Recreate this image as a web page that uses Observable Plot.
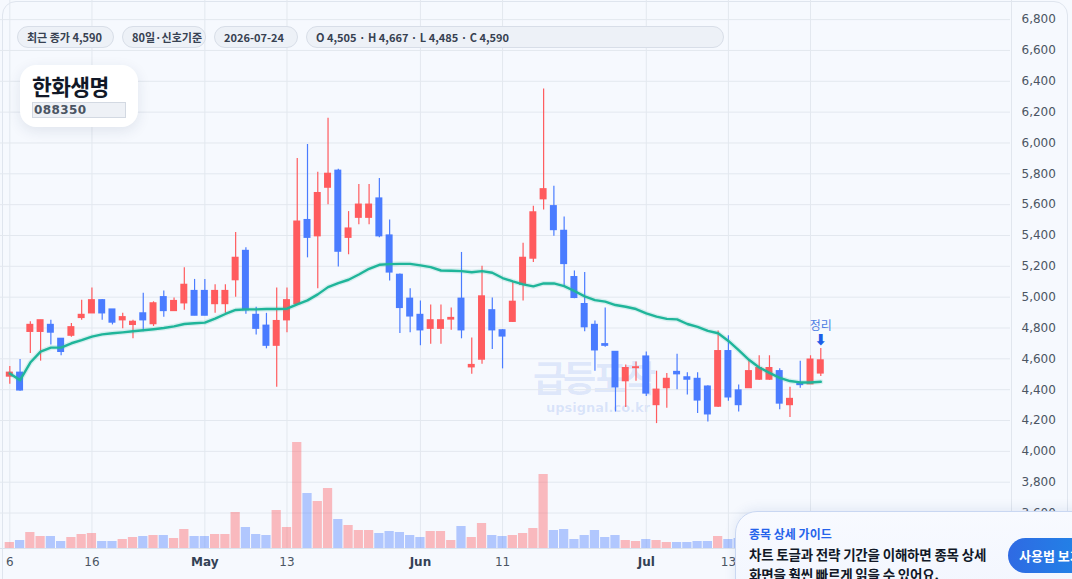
<!DOCTYPE html>
<html><head><meta charset="utf-8">
<script src="https://cdn.jsdelivr.net/npm/d3@7"></script>
<script src="https://cdn.jsdelivr.net/npm/@observablehq/plot@0.6"></script>
<style>
body{margin:0;background:#f6f9fe;font-family:"Noto Sans CJK KR","DejaVu Sans",sans-serif;}
#wrap{position:relative;width:1072px;height:579px;overflow:hidden;background:#f6f9fe;}
.card{position:absolute;left:2px;top:1px;width:1066px;height:640px;border:1px solid #dfe5ee;border-radius:14px;box-sizing:border-box;}
#sep{position:absolute;left:1011px;top:0;width:1px;height:548px;background:#e1e6ee;}
.wm1{position:absolute;left:533px;top:357px;font-weight:700;font-size:36px;line-height:38px;letter-spacing:-3px;color:rgba(60,110,225,0.14);white-space:nowrap;}
.wm2{position:absolute;left:546px;top:401px;font-family:"DejaVu Sans",sans-serif;font-weight:700;font-size:13px;line-height:14px;color:rgba(60,110,225,0.16);white-space:nowrap;}
#price,#vol{position:absolute;left:0;top:0;}
.chips{position:absolute;top:26px;left:17px;display:flex;gap:8px;}
.chip{box-sizing:border-box;height:22px;line-height:20px;padding:0 9px;border:1px solid #d8dee8;border-radius:11px;background:#edf1f7;font-weight:700;font-size:11px;color:#374151;white-space:nowrap;}
.tcard{position:absolute;left:20px;top:65px;width:118px;height:62px;background:#fff;border-radius:16px;box-shadow:0 4px 14px rgba(30,50,90,0.10);}
.tname{position:absolute;left:12px;top:6px;font-size:21.5px;line-height:30px;font-weight:700;color:#111827;letter-spacing:-0.6px;white-space:nowrap;}
.tcode{position:absolute;left:12px;top:37px;width:94px;height:16px;box-sizing:border-box;background:#eef1f6;border:1px solid #d3d9e2;font-family:"DejaVu Sans",sans-serif;font-weight:700;font-size:12px;line-height:14px;color:#4b5563;letter-spacing:0.4px;padding-left:1px;}
.pop{position:absolute;left:735px;top:511px;width:370px;height:100px;background:linear-gradient(180deg,#f8faff,#f1f5fe);border:1px solid #c9d7f2;border-radius:22px;box-shadow:0 -2px 12px rgba(40,80,160,0.10);}
.g1{position:absolute;left:13px;top:14px;font-size:12px;line-height:16px;font-weight:700;color:#2563eb;white-space:nowrap;}
.g2{position:absolute;left:13px;top:32px;font-size:13.5px;line-height:20px;font-weight:700;color:#111827;letter-spacing:-0.2px;white-space:nowrap;}
.btn{position:absolute;left:272px;top:26px;width:110px;height:35px;border-radius:18px;background:linear-gradient(90deg,#2f6ae3,#1a8fe8);color:#fff;font-weight:700;font-size:13px;line-height:35px;padding-left:11px;box-sizing:border-box;white-space:nowrap;}
</style></head>
<body>
<div id="wrap">
  <div class="card"></div>
  <div class="wm1">급등포착</div>
  <div class="wm2">upsignal.co.kr</div>
  <div id="price"></div>
  <div id="vol"></div>
  <div id="sep"></div>
  <div class="chips">
    <div class="chip" style="width:97px">최근 종가 4,590</div>
    <div class="chip" style="width:84px">80일·신호기준</div>
    <div class="chip" style="width:84px">2026-07-24</div>
    <div class="chip" style="width:418px">O 4,505 · H 4,667 · L 4,485 · C 4,590</div>
  </div>
  <div class="tcard"><div class="tname">한화생명</div><div class="tcode">088350</div></div>
  <div class="pop">
    <div class="g1">종목 상세 가이드</div>
    <div class="g2">차트 토글과 전략 기간을 이해하면 종목 상세<br>화면을 훨씬 빠르게 읽을 수 있어요.</div>
    <div class="btn">사용법 보기</div>
  </div>
</div>
<script>
// OHLC values (80 trading days, 2026-04-06 .. 2026-07-24)
const open  = [4485,4510,4775,4775,4820,4730,4750,4865,4895,4980,4920,4850,4820,4895,4825,5000,4910,4960,5040,5040,4955,4955,5110,5300,4885,4815,4685,4850,4955,5500,5395,5710,5820,5385,5515,5515,5640,5400,5145,4990,4885,4795,4795,4855,4990,4545,4595,4915,4785,4840,5080,5250,5635,5590,5430,5130,4955,4820,4695,4645,4455,4540,4615,4300,4410,4515,4480,4470,4420,4290,4650,4395,4410,4465,4465,4520,4300,4440,4435,4505];
const high  = [4550,4595,4840,4850,4850,4730,4830,4980,5060,4985,4920,4895,4850,5025,4970,5040,4995,5190,5115,5115,5080,5080,5420,5320,4935,4895,5060,5060,5900,5990,5810,6160,5830,5555,5730,5730,5770,5500,5150,5055,4975,4950,4950,4930,5290,4735,5200,4995,4790,5100,5350,5590,6350,5720,5520,5170,5160,4845,4930,4645,4560,4580,4645,4520,4505,4630,4510,4510,4425,4780,4750,4430,4595,4620,4620,4535,4415,4585,4620,4667];
const low   = [4435,4390,4635,4585,4690,4620,4740,4850,4895,4850,4820,4795,4730,4775,4810,4870,4910,4915,4880,4880,4895,4895,5000,4890,4755,4665,4415,4770,4955,5255,5055,5600,5195,5275,5470,5470,5385,5105,4765,4770,4685,4695,4695,4785,4730,4500,4565,4660,4535,4835,4975,5225,5565,5395,5070,4990,4775,4520,4675,4255,4285,4455,4355,4180,4280,4400,4365,4245,4190,4285,4325,4255,4410,4460,4460,4270,4220,4410,4435,4485];
const close = [4510,4395,4820,4850,4770,4645,4805,4885,4980,4895,4835,4870,4840,4850,4960,4910,4975,5080,4880,4880,5040,5040,5255,4915,4795,4685,4845,4980,5490,5385,5675,5800,5295,5445,5600,5600,5395,5160,4930,4875,4785,4850,4850,4865,4785,4560,5005,4785,4745,4970,5255,5550,5700,5435,5215,4995,4805,4655,4685,4415,4540,4545,4375,4400,4470,4500,4465,4330,4240,4650,4350,4300,4520,4540,4540,4310,4340,4430,4595,4590];
// signal-basis moving average line
const ma    = [4505,4462,4576,4647,4673,4673,4701,4721,4744,4759,4766,4772,4779,4785,4792,4800,4811,4826,4831,4835,4861,4891,4917,4921,4921,4923,4923,4925,4953,4979,5018,5065,5091,5113,5147,5184,5210,5214,5216,5216,5206,5195,5173,5171,5169,5162,5169,5158,5124,5102,5083,5070,5089,5089,5072,5040,5005,4981,4971,4949,4938,4923,4895,4874,4859,4856,4826,4807,4781,4766,4716,4656,4594,4544,4509,4477,4456,4447,4447,4451];
// daily volume (shares)
const volume = [180000,240000,480000,360000,360000,210000,330000,420000,450000,210000,210000,270000,330000,360000,390000,390000,300000,570000,360000,360000,420000,420000,1080000,630000,420000,390000,1140000,630000,3180000,1650000,1410000,1800000,870000,690000,540000,540000,450000,510000,480000,390000,330000,510000,510000,240000,660000,330000,750000,390000,360000,390000,450000,600000,2220000,540000,570000,270000,390000,540000,330000,390000,240000,210000,270000,240000,180000,180000,180000,210000,210000,360000,270000,300000,360000,330000,280000,400000,300000,260000,340000,380000];
// x-axis ticks (trading-day index) and their labels; the last tick sits under the guide popup
const xTicks  = [0,8,19,27,40,48,62,70,78];
const xLabels = ["6","16","May","13","Jun","11","Jul","13","23"];
const monthTicks = [19,40,62];
const yTicks = [3600,3800,4000,4200,4400,4600,4800,5000,5200,5400,5600,5800,6000,6200,6400,6600,6800];
const signalIdx = [79];
const signalText = ["정리"];

const RED = "#ff5b5e", BLUE = "#4a7cff", TEAL = "#1fb59a";
const data = open.map((o, i) => ({i, o, h: high[i], l: low[i], c: close[i], v: volume[i], ma: ma[i], col: close[i] >= o ? RED : BLUE}));
const labelOf = i => xLabels[xTicks.indexOf(i)];
const visibleTicks = xTicks.slice(0, 8);
const dayTicks = visibleTicks.filter(t => !monthTicks.includes(t));
const xDomain = [-0.906, 97.48];

const price = Plot.plot({
  width: 1072, height: 579, marginLeft: 0, marginRight: 62, marginTop: 0, marginBottom: 31,
  style: {background: "transparent", fontFamily: '"DejaVu Sans", sans-serif', fontSize: "12px"},
  x: {domain: xDomain},
  y: {domain: [3370, 6924]},
  color: {type: "identity"},
  marks: [
    Plot.gridY(yTicks, {stroke: "#e3e8ef", strokeOpacity: 1}),
    Plot.gridX(xTicks, {stroke: "#e3e8ef", strokeOpacity: 1}),
    Plot.axisY(yTicks, {anchor: "right", tickSize: 0, tickPadding: 11, tickFormat: d3.format(","), color: "#4b5563", fontSize: 12}),
    Plot.axisX(dayTicks, {tickSize: 0, tickPadding: 9, tickFormat: labelOf, color: "#4b5563", fontSize: 12}),
    Plot.axisX(monthTicks, {tickSize: 0, tickPadding: 9, tickFormat: labelOf, color: "#334155", fontSize: 12, fontWeight: "bold"}),
    Plot.ruleX(data, {x: "i", y1: "l", y2: "h", stroke: "col", strokeWidth: 1.2}),
    Plot.rect(data, {x1: d => d.i - 0.34, x2: d => d.i + 0.34, y1: "o", y2: "c", fill: "col", insetTop: -0.6, insetBottom: -0.6}),
    Plot.line(data, {x: "i", y: "ma", stroke: TEAL, strokeWidth: 5, strokeOpacity: 0.15}),
    Plot.line(data, {x: "i", y: "ma", stroke: TEAL, strokeWidth: 2.4}),
    Plot.text(signalIdx, {x: d => d, y: d => high[d], text: (d, k) => signalText[k], dy: -22, fill: "#4d7de3", fontSize: 12, fontFamily: '"Noto Sans CJK KR", sans-serif'}),
    Plot.text(signalIdx, {x: d => d, y: d => high[d], text: () => "⬇", dy: -8, fill: "#1d5ee8", fontSize: 15, fontWeight: "bold", fontFamily: '"DejaVu Sans", sans-serif'})
  ]
});
document.getElementById("price").appendChild(price);

const vol = Plot.plot({
  width: 1072, height: 579, marginLeft: 0, marginRight: 62, marginTop: 442, marginBottom: 31,
  style: {background: "transparent"},
  x: {domain: xDomain, axis: null},
  y: {domain: [0, 3180000], axis: null},
  color: {type: "identity"},
  marks: [
    Plot.rect(data, {x1: d => d.i - 0.45, x2: d => d.i + 0.45, y1: 0, y2: "v", fill: "col", fillOpacity: 0.4}),
    Plot.ruleY([0], {stroke: "#dbe2ec"})
  ]
});
document.getElementById("vol").appendChild(vol);
</script>
</body></html>
